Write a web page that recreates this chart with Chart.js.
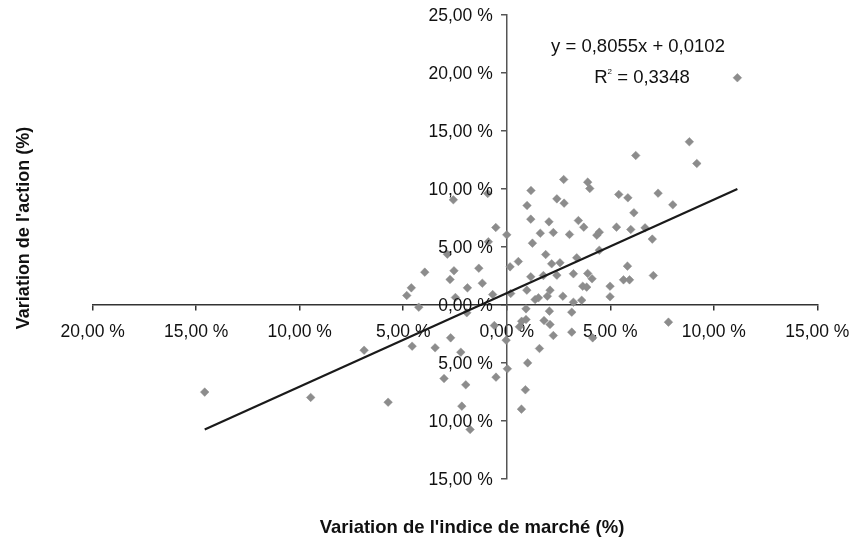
<!DOCTYPE html>
<html><head><meta charset="utf-8">
<script src="https://cdn.jsdelivr.net/npm/chart.js@4/dist/chart.umd.min.js"></script>
<style>html,body{margin:0;padding:0;background:#fff}#wrap{width:855px;height:542px}</style>
</head><body><div id="wrap"><canvas id="c" width="855" height="542"></canvas></div>
<script>
// Market index variation (%) and stock variation (%)
const marketVar = [11.14, 8.82, 9.18, 6.23, 2.75, 3.91, 4.01, 1.17, -2.58, -0.92,
  5.41, 5.85, 7.31, 2.42, 2.77, 0.98, 8.02, 6.14, 1.16, 2.04,
  3.46, 3.72, 5.30, 5.99, 6.68, -0.53, 0.00, 1.62, 2.25, 3.03,
  4.35, 4.47, 7.03, 1.24, -0.89, 4.47, 1.88, -2.87, 0.56, 0.16,
  2.17, 2.57, 3.38, 5.83, -3.96, -2.55, -1.35, 3.22, 3.91, 7.08,
  4.12, 5.64, 5.93, -2.74, -1.18, 1.16, 1.77, 2.42, -4.61, -4.83,
  -1.90, -0.68, 0.19, 0.97, 2.09, 1.96, 2.71, 3.67, 3.86, 4.99,
  4.99, 1.37, 1.53, 3.22, 3.62, -4.25, -1.93, 0.93, 2.06, 3.14,
  7.81, 0.72, 0.93, 1.80, 2.09, -0.60, 0.61, 2.25, 3.14, 4.15,
  -2.71, -0.03, -4.57, -3.46, -2.22, 1.58, 1.01, 0.03, -3.03, -1.98,
  -0.52, 0.90, -2.17, 0.71, -1.77, -14.59, -9.47, -5.73, -6.89, -2.48];
const stockVar = [19.59, 14.07, 12.20, 12.89, 10.82, 10.59, 10.04, 9.87, 9.07, 9.61,
  9.53, 9.24, 9.64, 9.15, 8.78, 8.58, 8.64, 7.95, 7.40, 7.17,
  7.28, 6.71, 6.71, 6.51, 6.65, 6.68, 6.05, 6.19, 6.25, 6.08,
  6.02, 6.28, 5.68, 5.33, 5.45, 4.72, 4.35, 4.38, 3.75, 3.29,
  3.55, 3.64, 4.07, 3.35, 2.83, 2.95, 3.17, 2.69, 2.72, 2.54,
  2.26, 2.17, 2.17, 2.20, 1.88, 2.43, 2.54, 2.57, 1.48, 0.82,
  1.48, 0.90, 0.99, 1.28, 1.28, 0.76, 0.76, 1.62, 1.54, 1.62,
  0.71, 0.47, 0.62, 0.24, 0.41, -0.19, -0.67, -0.33, -0.53, -0.62,
  -1.48, -1.40, -1.25, -1.34, -1.68, -1.77, -1.88, -2.63, -2.34, -2.83,
  -2.83, -3.03, -3.55, -3.69, -4.07, -3.75, -4.99, -5.50, -6.34, -6.88,
  -6.22, -7.31, -8.72, -8.98, -10.73, -7.51, -7.97, -8.38, -3.90, 0.65];

const xTickValues = [-20, -15, -10, -5, 0, 5, 10, 15];
const xTickLabels = ['20,00 %', '15,00 %', '10,00 %', '5,00 %', '0,00 %', '5,00 %', '10,00 %', '15,00 %'];
const yTickValues = [-15, -10, -5, 0, 5, 10, 15, 20, 25];
const yTickLabels = ['15,00 %', '10,00 %', '5,00 %', '0,00 %', '5,00 %', '10,00 %', '15,00 %', '20,00 %', '25,00 %'];

const trendSlope = 0.8055;      // y = 0,8055x + 0,0102 (fractions)
const trendIntercept = 0.0102;
const equationText = 'y = 0,8055x + 0,0102';
const r2Value = '0,3348';
const xTitle = "Variation de l'indice de marché (%)";
const yTitle = "Variation de l'action (%)";

const points = marketVar.map((x, i) => ({x: x, y: stockVar[i]}));
const xMin = Math.min(...marketVar), xMax = Math.max(...marketVar);
const trendPts = [xMin, xMax].map(x => ({x: x, y: (trendSlope * x / 100 + trendIntercept) * 100}));

const FONT = "'Liberation Sans', Arial, Helvetica, sans-serif";

const textPlugin = {
  id: 'texts',
  afterDraw(chart) {
    const ctx = chart.ctx;
    const xs = chart.scales.x, ys = chart.scales.y;
    ctx.save();
    ctx.fillStyle = '#111';
    // y tick labels (left of the vertical axis)
    ctx.font = '17.5px ' + FONT;
    ctx.textAlign = 'right';
    ctx.textBaseline = 'middle';
    const axisX = xs.getPixelForValue(0);
    yTickValues.forEach((v, i) => {
      ctx.fillText(yTickLabels[i], axisX - 14, ys.getPixelForValue(v) + 1);
    });
    // trendline equation
    ctx.textAlign = 'center';
    ctx.font = '18.5px ' + FONT;
    ctx.fillText(equationText, 638, 46.5);
    // R² line
    const a = 'R', b = ' = ' + r2Value;
    const wa = ctx.measureText(a).width, wb = ctx.measureText(b).width;
    ctx.font = '8px ' + FONT;
    const ws = ctx.measureText('2').width;
    const total = wa + ws + wb;
    let x0 = 642 - total / 2;
    ctx.textAlign = 'left';
    ctx.font = '18.5px ' + FONT;
    ctx.fillText(a, x0, 78);
    ctx.font = '8px ' + FONT;
    ctx.fillText('2', x0 + wa, 72);
    ctx.font = '18.5px ' + FONT;
    ctx.fillText(b, x0 + wa + ws, 78);
    // axis titles
    ctx.textAlign = 'center';
    ctx.font = 'bold 18.5px ' + FONT;
    ctx.fillText(xTitle, 472, 528);
    ctx.font = 'bold 18px ' + FONT;
    ctx.translate(24, 228);
    ctx.rotate(-Math.PI / 2);
    ctx.fillText(yTitle, 0, 0);
    ctx.restore();
  }
};

const tickFont = {family: FONT, size: 17.5};

new Chart(document.getElementById('c'), {
  type: 'scatter',
  data: {
    datasets: [
      {
        type: 'line',
        data: trendPts,
        borderColor: '#1a1a1a',
        borderWidth: 2.2,
        pointRadius: 0,
        fill: false,
        showLine: true
      },
      {
        data: points,
        pointStyle: 'rectRot',
        pointRadius: 4.3,
        backgroundColor: '#8c8c8c',
        borderColor: '#8c8c8c',
        borderWidth: 0.5
      }
    ]
  },
  options: {
    responsive: false,
    animation: false,
    devicePixelRatio: 1,
    layout: {padding: {left: 92.7, right: 37.7, top: 15, bottom: 63}},
    plugins: {legend: {display: false}, tooltip: {enabled: false}},
    scales: {
      x: {
        type: 'linear', min: -20, max: 15,
        position: {y: 0},
        afterBuildTicks: s => { s.ticks = xTickValues.map(v => ({value: v})); },
        afterFit: s => { s.paddingLeft = 0; s.paddingRight = 0; },
        grid: {drawOnChartArea: false, drawTicks: true, tickLength: 5, color: '#333', lineWidth: 1.5},
        border: {display: true, color: '#333', width: 1.5},
        ticks: {autoSkip: false, maxRotation: 0, padding: 12, color: '#111', font: tickFont,
          callback: v => xTickLabels[xTickValues.indexOf(v)]}
      },
      y: {
        type: 'linear', min: -15, max: 25,
        position: {x: 0},
        afterBuildTicks: s => { s.ticks = yTickValues.map(v => ({value: v})); },
        afterFit: s => { s.paddingTop = 0; s.paddingBottom = 0; },
        grid: {drawOnChartArea: false, drawTicks: true, tickLength: 5, color: '#555', lineWidth: 1.5},
        border: {display: true, color: '#555', width: 1.5},
        ticks: {display: false, autoSkip: false}
      }
    }
  },
  plugins: [textPlugin]
});
</script>
</body></html>
